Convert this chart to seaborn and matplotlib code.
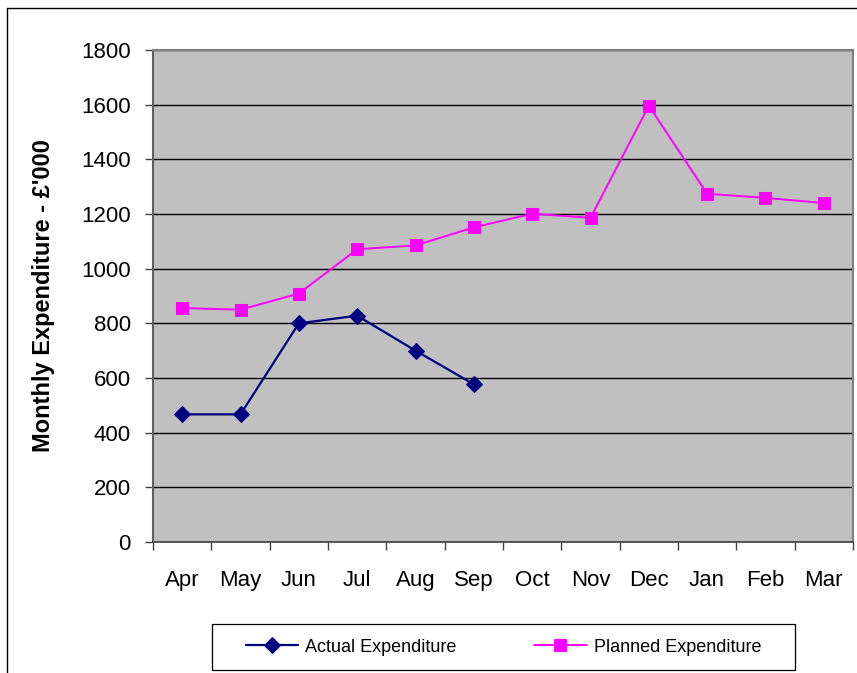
import matplotlib
matplotlib.use("Agg")
import matplotlib.pyplot as plt
from matplotlib.lines import Line2D
from matplotlib.patches import Rectangle
from matplotlib.ticker import FixedLocator
import seaborn as sns
import pandas as pd
import numpy as np

months = ["Apr", "May", "Jun", "Jul", "Aug", "Sep", "Oct", "Nov", "Dec", "Jan", "Feb", "Mar"]
actual = [467, 467, 800, 828, 700, 577]
planned = [856, 850, 909, 1071, 1085, 1151, 1201, 1186, 1596, 1274, 1259, 1240]
yticks = [0, 200, 400, 600, 800, 1000, 1200, 1400, 1600, 1800]

sns.set_theme(style="white")
plt.rcParams['font.family'] = ['Liberation Sans', 'DejaVu Sans']
plt.rcParams['text.color'] = 'black'
plt.rcParams['axes.labelcolor'] = 'black'
plt.rcParams['xtick.labelcolor'] = 'black'
plt.rcParams['ytick.labelcolor'] = 'black'

fig = plt.figure(figsize=(8.57, 6.73), dpi=100)
ax = fig.add_axes([153/857, 1-542/673, 700/857, 492/673])
ax.set_facecolor("#C0C0C0")

xpos = {m: i for i, m in enumerate(months)}
df_a = pd.DataFrame({"x": [xpos[m] for m in months[:len(actual)]], "y": actual})
df_p = pd.DataFrame({"x": [xpos[m] for m in months], "y": planned})

sns.lineplot(data=df_a, x="x", y="y", ax=ax, color="#000080", linewidth=1.6,
             marker="D", markersize=8.5, markeredgecolor="#000080",
             label="Actual Expenditure", zorder=4)
sns.lineplot(data=df_p, x="x", y="y", ax=ax, color="#FF00FF", linewidth=1.4,
             marker="s", markersize=8, markeredgecolor="#FF00FF",
             label="Planned Expenditure", zorder=3)

ax.set_xlim(-0.5, len(months) - 0.5)
ax.set_ylim(0, 1800)
ax.set_yticks(yticks)
ax.set_yticklabels([str(v) for v in yticks], fontsize=16, color="black")
ax.set_xticks(range(len(months)))
ax.set_xticklabels(months, fontsize=16, color="black")
ax.xaxis.set_minor_locator(FixedLocator(np.arange(-0.5, len(months), 1.0)))
ax.tick_params(axis="x", which="major", length=0, pad=20)
ax.tick_params(axis="x", which="minor", length=6, width=1, color="#404040", direction="out", bottom=True)
ax.tick_params(axis="y", which="major", length=6, width=1, color="#404040", direction="out", left=True, pad=10)

ax.yaxis.grid(True, color="black", linewidth=1)
ax.xaxis.grid(False)
ax.set_axisbelow(True)

ax.set_xlabel("")
ax.set_ylabel("Monthly Expenditure - £'000", fontsize=17, fontweight="bold", labelpad=19, color="black")

for s in ["top", "right"]:
    ax.spines[s].set_color("#808080")
    ax.spines[s].set_linewidth(1.5)
ax.spines["left"].set_color("#606060")
ax.spines["left"].set_linewidth(1.5)
ax.spines["bottom"].set_color("#404040")
ax.spines["bottom"].set_linewidth(1.2)

ax.get_legend().remove()
handles, labels = ax.get_legend_handles_labels()
leg = fig.legend(handles, labels, loc="center", bbox_to_anchor=((212+795)/2/857, 1-647/673),
                 ncol=2, fontsize=13, frameon=False, labelcolor="black",
                 handlelength=2.9, columnspacing=4.3, handletextpad=0.4)

# legend box
fig.add_artist(Rectangle((212/857, 1-670/673), (795-212)/857, (670-624)/673,
                         transform=fig.transFigure, fill=False, edgecolor="black", linewidth=0.9))

# outer chart border
fig.add_artist(Line2D([7/857, 7/857], [0, 1-8/673], transform=fig.transFigure, color="black", linewidth=1))
fig.add_artist(Line2D([7/857, 1], [1-8/673, 1-8/673], transform=fig.transFigure, color="black", linewidth=1))

fig.savefig("out.png", dpi=100)
